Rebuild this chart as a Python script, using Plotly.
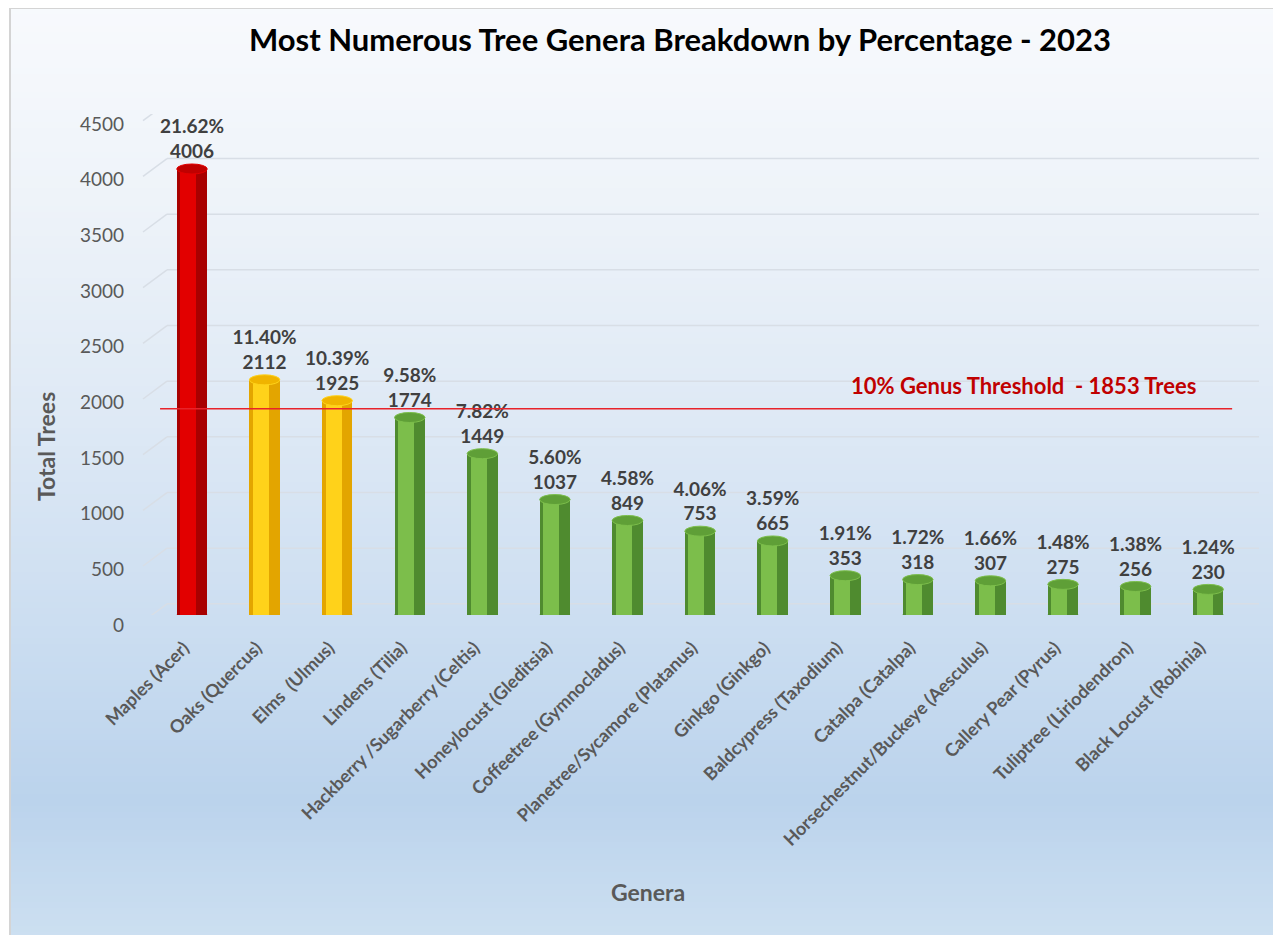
import plotly.graph_objects as go

# ---------------- data ----------------
genera = ["Maples (Acer)", "Oaks (Quercus)", "Elms  (Ulmus)", "Lindens (Tilia)",
          "Hackberry /Sugarberry (Celtis)", "Honeylocust (Gleditsia)",
          "Coffeetree (Gymnocladus)", "Planetree/Sycamore (Platanus)",
          "Ginkgo (Ginkgo)", "Baldcypress (Taxodium)", "Catalpa (Catalpa)",
          "Horsechestnut/Buckeye (Aesculus)", "Callery Pear (Pyrus)",
          "Tuliptree (Liriodendron)", "Black Locust (Robinia)"]
total_trees = [4006, 2112, 1925, 1774, 1449, 1037, 849, 753, 665, 353, 318, 307, 275, 256, 230]
percentages = ["21.62%", "11.40%", "10.39%", "9.58%", "7.82%", "5.60%", "4.58%", "4.06%",
               "3.59%", "1.91%", "1.72%", "1.66%", "1.48%", "1.38%", "1.24%"]
threshold = 1853
threshold_label = "10% Genus Threshold  - 1853 Trees"
y_ticks = [0, 500, 1000, 1500, 2000, 2500, 3000, 3500, 4000, 4500]

title = "Most Numerous Tree Genera Breakdown by Percentage - 2023"
x_title = "Genera"
y_title = "Total Trees"
FONT = "Lato"

# ---------------- layout geometry ----------------
W, H = 1281, 935
OFF = 8  # page body margin
S_L, S_T, S_R, S_B = 143, 114, 1259, 615  # plot area in screen pixels
L, T = S_L - OFF, S_T - OFF
R, B = W - (S_R - OFF), H - (S_B - OFF)
plot_h = S_B - S_T
plot_w = S_R - S_L

def py(p):  # screen row -> paper y
    return (S_B - p) / plot_h

def px(q):  # screen col -> paper x
    return (q - S_L) / plot_w

x_idx = list(range(len(genera)))

# colour class from data
def palette(v):
    if v > 2 * threshold:
        return ("#A80000", "#E20000", "#C00000")
    if v > threshold:
        return ("#E3A500", "#FFD21A", "#F0B400")
    return ("#4F8B2F", "#7CBE4B", "#5F9F37")

base_cols = [palette(v)[0] for v in total_trees]
hi_cols = [palette(v)[1] for v in total_trees]
top_cols = [palette(v)[2] for v in total_trees]

fig = go.Figure()

# cylinder body
fig.add_trace(go.Bar(x=x_idx, y=total_trees, width=0.42, offset=-0.21,
                     marker=dict(color=base_cols, line=dict(width=0)),
                     hoverinfo="skip", showlegend=False))
fig.add_trace(go.Bar(x=x_idx, y=total_trees, width=0.22, offset=-0.16,
                     marker=dict(color=hi_cols, line=dict(width=0)),
                     hoverinfo="skip", showlegend=False))

# data labels
fig.add_trace(go.Scatter(
    x=x_idx, y=[v + 55 for v in total_trees], mode="text",
    text=[f"{p}<br>{v}" for p, v in zip(percentages, total_trees)],
    textposition="top center",
    textfont=dict(family=FONT, size=19, color="#404040", weight="bold"),
    hoverinfo="skip", showlegend=False, cliponaxis=False))

shapes = []
# background gradient
stops = [(0, (248, 250, 253)), (200, (238, 243, 249)), (420, (222, 233, 245)),
         (620, (204, 222, 241)), (800, (187, 211, 236)), (945, (205, 224, 241))]

def colour_at(p):
    for (p0, c0), (p1, c1) in zip(stops[:-1], stops[1:]):
        if p0 <= p <= p1:
            t = (p - p0) / (p1 - p0)
            return "rgb(%d,%d,%d)" % tuple(round(a + (b - a) * t) for a, b in zip(c0, c1))
    return "rgb(%d,%d,%d)" % stops[-1][1]

step = 6
for p in range(8, H + 10, step):
    shapes.append(dict(type="rect", xref="paper", yref="paper", layer="below",
                       x0=px(10), x1=px(1275), y0=py(p), y1=py(p + step + 1),
                       fillcolor=colour_at(p + step / 2), line=dict(width=0)))
# border
shapes.append(dict(type="rect", xref="paper", yref="paper", layer="below",
                   x0=px(10), x1=px(1275), y0=py(8), y1=py(H + 20),
                   fillcolor="rgba(0,0,0,0)", line=dict(color="#D4D4D4", width=2)))

# 3D-style gridlines
back = 100
front = -60
for v in y_ticks:
    shapes.append(dict(type="line", xref="x domain", yref="y", layer="below",
                       x0=0, x1=px(167), y0=v + front, y1=v + back,
                       line=dict(color="#D8DEE6", width=1.5)))
    shapes.append(dict(type="line", xref="x domain", yref="y", layer="below",
                       x0=px(167), x1=1, y0=v + back, y1=v + back,
                       line=dict(color="#D8DEE6", width=1.5)))

# cylinder bottoms and tops
eh = 45
for i, v in enumerate(total_trees):
    shapes.append(dict(type="circle", xref="x", yref="y", layer="below",
                       x0=i - 0.21, x1=i + 0.21, y0=-eh, y1=eh,
                       fillcolor=base_cols[i], line=dict(width=0)))
    shapes.append(dict(type="circle", xref="x", yref="y", layer="above",
                       x0=i - 0.21, x1=i + 0.21, y0=v - eh, y1=v + eh,
                       fillcolor=top_cols[i], line=dict(color=hi_cols[i], width=1)))

# threshold line
shapes.append(dict(type="line", xref="x", yref="y", layer="above",
                   x0=-0.44, x1=14.33, y0=threshold, y1=threshold,
                   line=dict(color="#E8232A", width=1.5)))

axis_title_font = dict(family=FONT, size=23, color="#595959", weight="bold")

fig.update_layout(
    width=W, height=H,
    margin=dict(l=L, r=R, t=T, b=B, autoexpand=False),
    paper_bgcolor="white", plot_bgcolor="rgba(0,0,0,0)",
    barmode="overlay", bargap=0,
    shapes=shapes,
    title=dict(text=title, x=px(680), xref="paper", xanchor="center",
               y=1 - (40 - OFF) / H, yanchor="middle",
               font=dict(family=FONT, size=31, color="#000000", weight="bold")),
    font=dict(family=FONT),
    annotations=[
        dict(text=threshold_label, xref="x", yref="y", x=11.45, y=threshold + 70,
             xanchor="center", yanchor="bottom", showarrow=False,
             font=dict(family=FONT, size=22, color="#C00000", weight="bold")),
        dict(text=y_title, xref="paper", yref="paper", x=px(46), y=py(447),
             xanchor="center", yanchor="middle", textangle=-90, showarrow=False,
             font=axis_title_font),
        dict(text=x_title, xref="paper", yref="paper", x=px(648), y=py(892),
             xanchor="center", yanchor="middle", showarrow=False,
             font=axis_title_font),
    ],
)

fig.update_xaxes(range=[-0.675, 14.70], tickmode="array", tickvals=x_idx, ticktext=genera,
                 tickangle=-45, showgrid=False, zeroline=False, showline=False, ticks="",
                 ticklabelstandoff=18, ticklabelshift=-8,
                 tickfont=dict(family=FONT, size=18, color="#595959", weight="bold"))
fig.update_yaxes(range=[0, 4500], tickmode="array", tickvals=y_ticks, showgrid=False,
                 zeroline=False, showline=False, ticks="", ticklabelstandoff=18,
                 ticklabelshift=10,
                 tickfont=dict(family=FONT, size=19, color="#595959"))

fig.write_html("out.html")
